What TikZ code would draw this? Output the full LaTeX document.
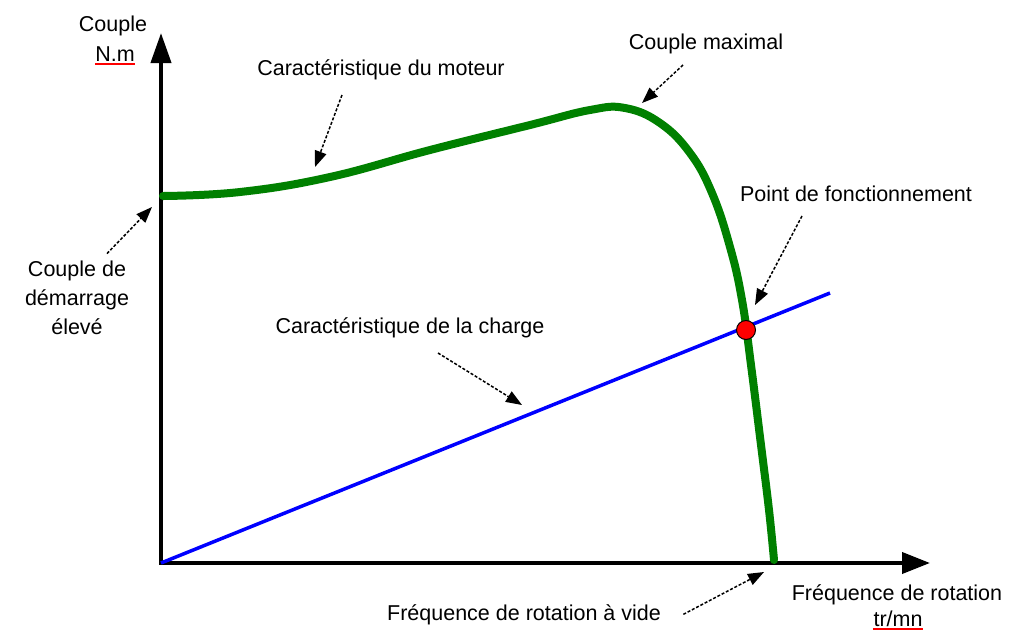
\documentclass[tikz,border=0pt]{standalone}
\usepackage{fontspec}
\setmainfont{Liberation Sans}
\usetikzlibrary{positioning}
\usetikzlibrary{arrows.meta}
\tikzset{mygraph/.style={x=1pt, y=-1pt, align=center,
font=\fontsize{21.5}{29}\selectfont}}

\begin{document}
\begin{tikzpicture}[mygraph, axe/.style={line width=4pt, {Triangle[length=30pt,width=20pt]}-{Triangle[length=28pt,width=21pt]}},
	fleche/.style={dash pattern=on 3pt off 1.8pt, line width=1.5pt, -{Triangle[length=16pt,width=12pt]}},
	moteur/.style={line width=8pt, green!50!black, line cap=round},
	charge/.style={line width=3.5pt, blue},
	souligne/.style={red, line width=1.2pt}, lbl/.style={anchor=base}]
	\useasboundingbox (0,0) rectangle (1025,633);
	% axes
	\coordinate (O) at (161,563);
	\draw[axe] (161,33) -- (O) -- (930,563);
	% courbes
	\draw[charge] (O) -- (830,293);
	\draw[moteur] plot[smooth, tension=0.7] coordinates {(163,196) (240,192) (330,177) (430,150) (530,125) (590,110) (625,108) (660,123) (690,153) (712,193) (730,247) (742,300) (751,365) (761,445) (769,510) (774,560)};
	\node[circle, fill=red, draw=black, line width=1pt, inner sep=0pt, minimum size=19pt] (pf) at (746,330) {};
	% textes
	\node[lbl] (cpl) at (113,31) {Couple};
	\node[lbl] (nm) at (115,61) {N.m};
	\node[lbl] (mot) at (381,75) {Caractéristique du moteur};
	\node[lbl] (max) at (706,49) {Couple maximal};
	\node[lbl] (pfl) at (856,201) {Point de fonctionnement};
	\node[lbl] (chg) at (410,333) {Caractéristique de la charge};
	\node (dem) at (77,298) {Couple de\\démarrage\\élevé};
	\node[lbl] (frq) at (897,600) {Fréquence de rotation};
	\node[lbl] (trmn) at (898,626) {tr/mn};
	\node[lbl] (vid) at (524,620) {Fréquence de rotation à vide};
	\draw[souligne] ([shift={(3,3)}]nm.base west) -- ([shift={(-3,3)}]nm.base east);
	\draw[souligne] ([shift={(3,3)}]trmn.base west) -- ([shift={(-3,3)}]trmn.base east);
	% fleches
	\coordinate (pmot) at (315,167);
	\coordinate (pmax) at (642,103);
	\coordinate (ppf) at (755,305);
	\coordinate (pchg) at (522,405);
	\coordinate (pdem) at (152,207);
	\coordinate (pvid) at (764,572);
	\draw[fleche] ([shift={(-39,20)}]mot.base) -- (pmot);
	\draw[fleche] ([shift={(-23,16)}]max.base) -- (pmax);
	\draw[fleche] ([shift={(-54,15)}]pfl.base) -- (ppf);
	\draw[fleche] ([shift={(28,20)}]chg.base) -- (pchg);
	\draw[fleche] ([shift={(30,-4)}]dem.north) -- (pdem);
	\draw[fleche] ([shift={(19,0)}]vid.east) -- (pvid);
\end{tikzpicture}
\end{document}
